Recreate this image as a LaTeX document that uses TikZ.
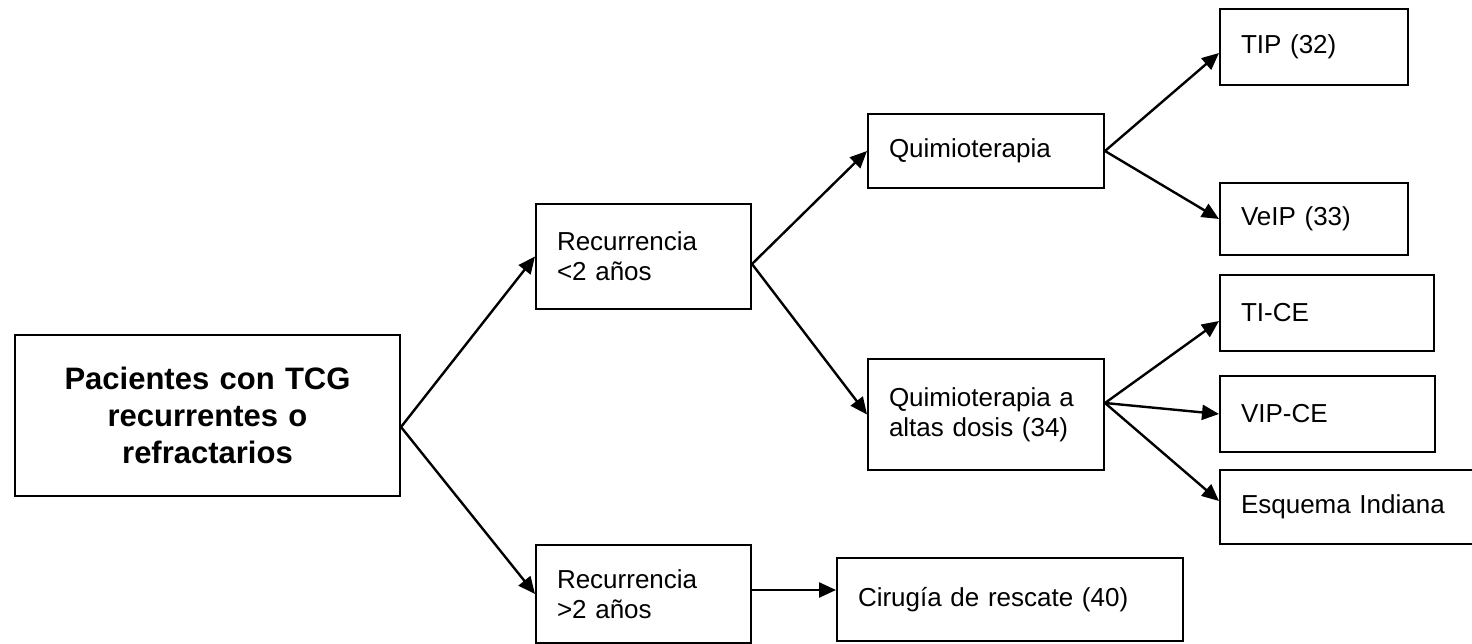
\documentclass[tikz,border=0pt]{standalone}
\usepackage{fontspec}
\setmainfont{Liberation Sans}
\usepackage{tikz}
\usetikzlibrary{arrows.meta}

\begin{document}
\begin{tikzpicture}[x=0.5pt, y=-0.5pt, inner sep=3pt]
            \useasboundingbox (0,0) rectangle (1472,643);

            \tikzstyle{myBox}=[draw, line width=1pt, anchor=north west, inner xsep=10.5pt, inner ysep=0pt, align=left, font=\fontsize{13}{15}\selectfont];
            \tikzstyle{myArr}=[line width=1.2pt, -{Triangle[length=8.5pt, width=7.5pt]}];

            \node[myBox, align=center, text width=171.5pt, minimum height=80.5pt, font=\bfseries\fontsize{15.5}{18.5}\selectfont] (1) at (14,334) {Pacientes con TCG\\recurrentes o\\refractarios};
            \node[myBox, text width=86.5pt, minimum height=52.5pt] (2) at (535,203) {Recurrencia\\<2 años};
            \node[myBox, text width=86.5pt, minimum height=49pt] (3) at (535,544) {Recurrencia\\>2 años};
            \node[myBox, text width=97pt, minimum height=37pt] (4) at (867,113) {Quimioterapia};
            \node[myBox, text width=97pt, minimum height=55.5pt] (5) at (867,358) {Quimioterapia a\\altas dosis (34)};
            \node[myBox, text width=152pt, minimum height=41.5pt] (6) at (836,557) {Cirugía de rescate (40)};
            \node[myBox, text width=73pt, minimum height=38pt] (7) at (1219,8) {TIP (32)};
            \node[myBox, text width=73pt, minimum height=36pt] (8) at (1219,182) {VeIP (33)};
            \node[myBox, text width=86pt, minimum height=38pt] (9) at (1219,274) {TI-CE};
            \node[myBox, text width=86.5pt, minimum height=38pt] (10) at (1219,375) {VIP-CE};
            \node[myBox, text width=114pt, minimum height=37pt] (11) at (1219,469) {Esquema Indiana};

            \draw[myArr] ([yshift=-5.75pt]1.east) -- (2.west);
            \draw[myArr] ([yshift=-5.75pt]1.east) -- (3.west);
            \draw[myArr] ([yshift=-3.75pt]2.east) -- (4.west);
            \draw[myArr] ([yshift=-3.75pt]2.east) -- (5.west);
            \draw[myArr] ([yshift=2pt]3.east) -- ([yshift=4.75pt]6.west);
            \draw[myArr] (4.east) -- ([yshift=-3pt]7.west);
            \draw[myArr] (4.east) -- (8.west);
            \draw[myArr] ([yshift=5.75pt]5.east) -- ([yshift=-4pt]9.west);
            \draw[myArr] ([yshift=5.75pt]5.east) -- (10.west);
            \draw[myArr] ([yshift=5.75pt]5.east) -- ([yshift=3pt]11.west);
         \end{tikzpicture}
\end{document}
